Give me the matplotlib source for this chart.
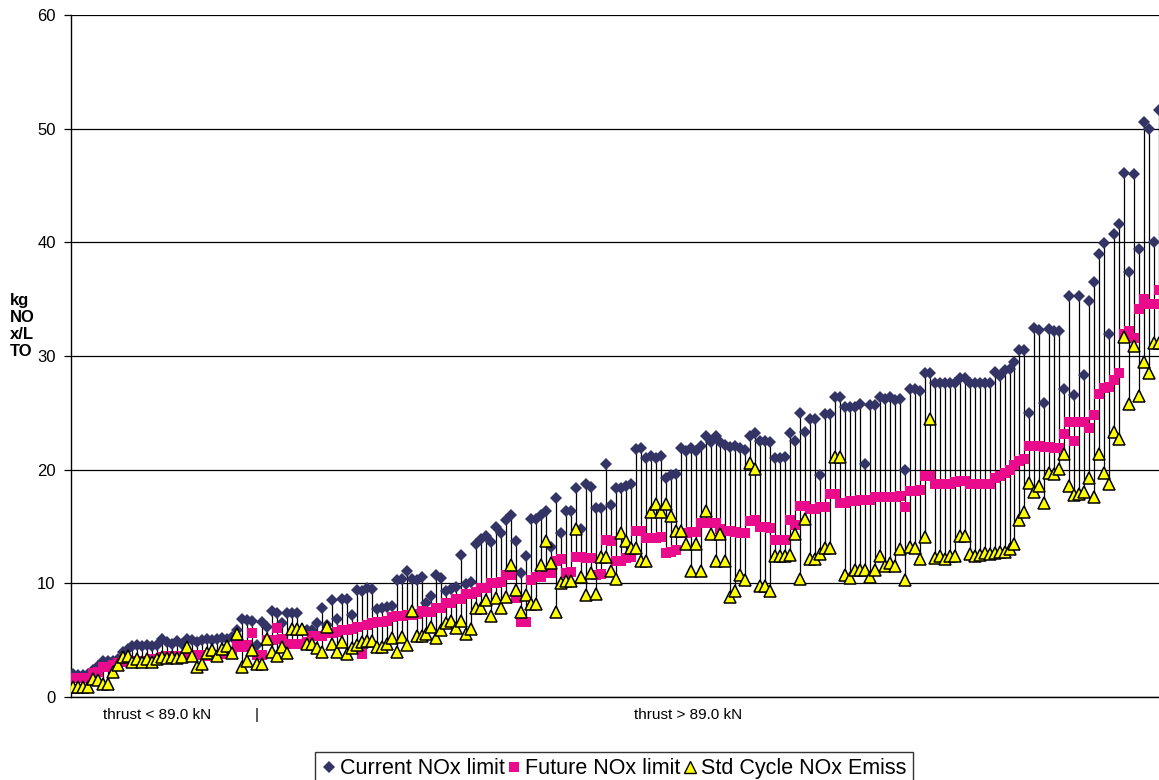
import matplotlib.pyplot as plt
from matplotlib.lines import Line2D
import numpy as np

plt.rcParams['font.family'] = ['Liberation Sans', 'DejaVu Sans']

# values, one entry per engine (sorted by current limit trend)
current_limit = [
    2.0, 1.9, 1.9, 2.0, 2.4, 2.7, 3.2, 3.2, 3.2, 3.3,
    4.0, 4.2, 4.5, 4.6, 4.5, 4.6, 4.5, 4.6, 5.1, 4.8,
    4.7, 4.9, 4.7, 5.1, 5.0, 4.8, 5.0, 5.1, 5.0, 5.1,
    5.2, 5.1, 5.3, 5.9, 6.9, 6.8, 6.7, 4.6, 6.6, 6.2,
    7.6, 7.4, 6.5, 7.4, 7.4, 7.4, 5.9, 5.9, 5.9, 6.5,
    7.8, 6.3, 8.5, 6.9, 8.6, 8.6, 7.2, 9.4, 9.3, 9.6,
    9.5, 7.7, 7.8, 7.9, 8.0, 10.3, 10.4, 11.1, 10.4, 10.3,
    10.6, 8.3, 8.9, 10.7, 10.5, 9.3, 9.5, 9.7, 12.5, 9.9,
    10.1, 13.5, 13.9, 14.2, 13.6, 15.0, 14.4, 15.6, 16.0, 13.7,
    10.9, 12.4, 15.7, 15.7, 16.0, 16.4, 13.2, 17.5, 14.4, 16.4,
    16.4, 18.4, 14.8, 18.7, 18.5, 16.6, 16.6, 20.5, 16.9, 18.4,
    18.4, 18.6, 18.7, 21.8, 21.9, 21.0, 21.2, 21.0, 21.2, 19.3,
    19.5, 19.6, 21.9, 21.6, 21.9, 21.6, 22.1, 23.0, 22.4, 23.0,
    22.4, 22.2, 22.0, 22.1, 21.9, 21.7, 23.0, 23.2, 22.5, 22.5,
    22.4, 21.0, 21.0, 21.1, 23.2, 22.5, 25.0, 23.3, 24.5, 24.5,
    19.5, 24.9, 24.9, 26.4, 26.4, 25.5, 25.5, 25.5, 25.8, 20.5,
    25.7, 25.7, 26.4, 26.2, 26.4, 26.1, 26.2, 20.0, 27.1, 27.1,
    26.9, 28.5, 28.5, 27.6, 27.6, 27.6, 27.6, 27.6, 28.1, 28.1,
    27.6, 27.6, 27.6, 27.6, 27.6, 28.6, 28.2, 28.8, 28.9, 29.5,
    30.5, 30.5, 25.0, 32.5, 32.3, 25.9, 32.4, 32.2, 32.2, 27.1,
    35.3, 26.6, 35.3, 28.3, 34.8, 36.5, 39.0, 39.9, 31.9, 40.7,
    41.6, 46.1, 37.4, 46.0, 39.4, 50.6, 50.0, 40.0, 51.6,
]

future_limit = [
    1.7, 1.7, 1.7, 1.7, 2.1, 2.2, 2.6, 2.6, 2.8, 3.0,
    3.1, 3.2, 3.2, 3.2, 3.2, 3.2, 3.3, 3.3, 3.5, 3.6,
    3.6, 3.6, 3.6, 3.7, 3.6, 3.7, 3.7, 3.6, 3.7, 3.7,
    3.8, 3.8, 3.9, 4.6, 4.4, 4.6, 5.6, 3.7, 3.7, 5.0,
    5.0, 6.1, 5.1, 4.7, 4.7, 4.7, 4.7, 4.8, 5.4, 5.4,
    5.4, 5.6, 5.6, 5.7, 5.9, 5.9, 6.0, 6.2, 3.8, 6.3,
    6.5, 6.6, 6.6, 6.7, 7.0, 7.1, 7.1, 7.2, 7.2, 7.3,
    7.6, 7.5, 7.5, 7.8, 7.8, 8.3, 8.3, 8.6, 8.6, 9.1,
    9.1, 9.2, 9.6, 9.6, 10.0, 10.0, 10.1, 10.7, 10.7, 8.7,
    6.6, 6.6, 10.3, 10.6, 10.6, 10.9, 10.9, 12.0, 12.1, 10.9,
    11.0, 12.3, 12.3, 12.2, 12.2, 10.7, 10.8, 13.8, 13.7, 12.0,
    12.0, 12.2, 12.3, 14.6, 14.6, 14.0, 14.0, 14.0, 14.1, 12.7,
    12.8, 12.9, 14.4, 14.4, 14.5, 14.5, 15.3, 15.3, 15.3, 15.3,
    14.8, 14.6, 14.6, 14.5, 14.4, 14.4, 15.5, 15.6, 15.0, 15.0,
    14.9, 13.8, 13.8, 13.8, 15.6, 15.1, 16.8, 16.8, 16.5, 16.5,
    16.7, 16.7, 17.9, 17.9, 17.1, 17.1, 17.2, 17.2, 17.3, 17.3,
    17.3, 17.6, 17.6, 17.6, 17.6, 17.6, 17.7, 16.7, 18.1, 18.1,
    18.2, 19.4, 19.4, 18.7, 18.7, 18.7, 18.7, 18.9, 19.0, 19.0,
    18.7, 18.7, 18.7, 18.7, 18.7, 19.3, 19.4, 19.7, 20.0, 20.4,
    20.8, 20.9, 22.1, 22.1, 22.1, 22.0, 22.0, 21.9, 21.9, 23.1,
    24.2, 22.5, 24.2, 24.2, 23.7, 24.8, 26.7, 27.2, 27.3, 27.9,
    28.5, 31.9, 32.2, 31.6, 34.1, 35.0, 34.6, 34.6, 35.8,
]

std_cycle = [
    0.9, 0.9, 0.9, 0.9, 1.6, 1.5, 1.1, 1.1, 2.2, 2.8,
    3.5, 3.6, 3.1, 3.3, 3.1, 3.3, 3.1, 3.3, 3.5, 3.4,
    3.5, 3.4, 3.5, 4.4, 3.6, 2.6, 2.9, 3.9, 4.1, 3.6,
    4.2, 4.5, 3.9, 5.5, 2.6, 3.2, 4.1, 2.9, 2.9, 5.1,
    4.0, 3.6, 4.4, 3.9, 6.0, 6.0, 6.0, 4.7, 4.7, 4.3,
    4.0, 6.2, 4.7, 4.0, 4.8, 3.8, 4.3, 4.6, 4.8, 4.9,
    4.9, 4.4, 4.4, 4.7, 5.2, 4.0, 5.3, 4.6, 7.6, 5.4,
    5.4, 5.5, 6.2, 5.2, 5.9, 6.5, 6.7, 6.1, 6.7, 5.5,
    6.0, 7.8, 7.8, 8.5, 7.1, 8.7, 7.8, 8.8, 11.6, 9.4,
    7.5, 9.0, 8.2, 8.2, 11.6, 13.7, 11.8, 7.5, 10.0, 10.2,
    10.2, 14.8, 10.6, 9.0, 10.9, 9.1, 12.3, 12.3, 11.1, 10.4,
    14.4, 13.7, 13.1, 13.1, 12.0, 12.0, 16.3, 17.0, 16.3, 17.0,
    15.9, 14.6, 14.6, 13.5, 11.1, 13.5, 11.1, 16.4, 14.3, 12.0,
    14.3, 12.0, 8.8, 9.3, 10.7, 10.3, 20.6, 20.1, 9.8, 9.8,
    9.3, 12.4, 12.4, 12.4, 12.5, 14.3, 10.4, 15.7, 12.1, 12.1,
    12.6, 13.1, 13.1, 21.1, 21.1, 10.7, 10.5, 11.2, 11.2, 11.2,
    10.6, 11.2, 12.4, 11.5, 11.8, 11.5, 13.0, 10.3, 13.2, 13.1,
    12.1, 14.1, 24.5, 12.2, 12.4, 12.1, 12.4, 12.4, 14.2, 14.2,
    12.6, 12.4, 12.5, 12.7, 12.6, 12.7, 12.8, 12.8, 13.0, 13.5,
    15.6, 16.3, 18.8, 18.0, 18.6, 17.1, 19.7, 19.6, 20.1, 21.4,
    18.6, 17.8, 17.9, 18.0, 19.3, 17.6, 21.4, 19.7, 18.7, 23.3,
    22.7, 31.7, 25.8, 30.9, 26.5, 29.5, 28.5, 31.1, 31.1,
]

cat_labels = ['thrust < 89.0 kN', '|', 'thrust > 89.0 kN']
cat_label_pos = [17, 37, 123.5]

assert len(current_limit) == len(future_limit) == len(std_cycle)

cur = np.array(current_limit)
fut = np.array(future_limit)
std = np.array(std_cycle)
x = np.arange(len(cur))

fig = plt.figure(figsize=(11.59, 7.8), dpi=100)
ax = fig.add_axes([71 / 1159, 83 / 780, 1088 / 1159, 682 / 780])

# high-low lines
lo = np.minimum(np.minimum(cur, fut), std)
hi = np.maximum(np.maximum(cur, fut), std)
ax.vlines(x, lo, hi, color='black', lw=0.9, zorder=2)

ax.plot(x, cur, ls='none', marker='D', ms=6.3, color='#333366', mew=0, zorder=3)
ax.plot(x, fut, ls='none', marker='s', ms=7.6, color='#ea0a8c', mew=0, zorder=4)
ax.plot(x, std, ls='none', marker='^', ms=8.2, mfc='#ffff00', mec='black', mew=1.1, zorder=5)

ax.set_xlim(-0.34, len(cur) - 1)
ax.set_ylim(0, 60)
ax.set_yticks(range(0, 61, 10))
ax.yaxis.grid(True, color='black', lw=0.9)
ax.set_axisbelow(True)
for s in ['top', 'right']:
    ax.spines[s].set_visible(False)
ax.spines['left'].set_linewidth(1.0)
ax.spines['bottom'].set_linewidth(1.0)
ax.tick_params(axis='y', length=5, width=0.9, labelsize=12, pad=6)
ax.set_xticks(cat_label_pos, cat_labels)
ax.tick_params(axis='x', length=0, labelsize=11, pad=8)

fig.text(10 / 1159, 1 - 326 / 780, 'kg\nNO\nx/L\nTO', fontsize=12, fontweight='bold',
         ha='left', va='center', linespacing=1.14)

handles = [
    Line2D([], [], ls='none', marker='D', ms=6, color='#333366', mew=0),
    Line2D([], [], ls='none', marker='s', ms=7, color='#ea0a8c', mew=0),
    Line2D([], [], ls='none', marker='^', ms=8, mfc='#ffff00', mec='black', mew=1.0),
]
labels = ['Current NOx limit', 'Future NOx limit', 'Std Cycle NOx Emiss']
leg = fig.legend(handles, labels, loc='upper left', bbox_to_anchor=(315 / 1159, 1 - 752 / 780),
                 ncol=3, frameon=True, fancybox=False, edgecolor='black', fontsize=15.5,
                 handlelength=0.7, handletextpad=0.15, columnspacing=0.1, borderpad=0.3,
                 borderaxespad=0)
leg.get_frame().set_linewidth(1.0)

fig.savefig('out.png', dpi=100)
